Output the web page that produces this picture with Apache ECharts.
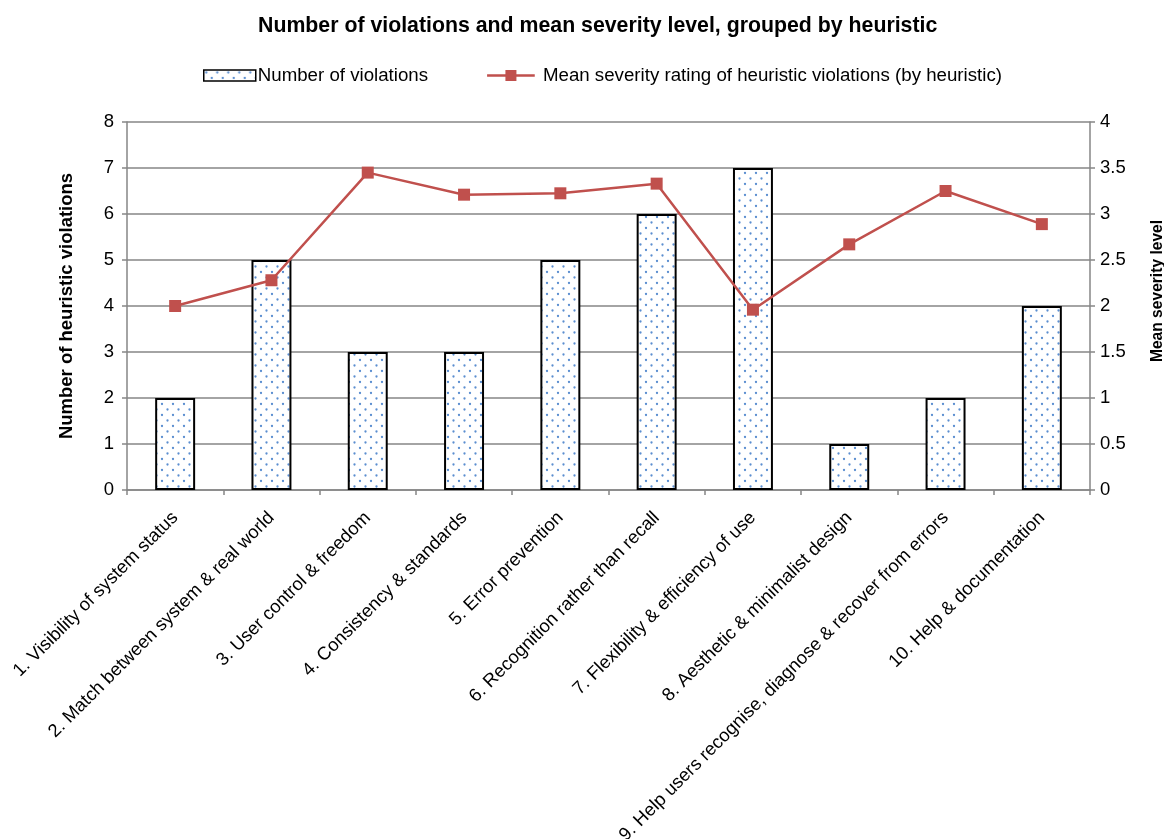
<!DOCTYPE html>
<html>
<head>
<meta charset="utf-8">
<script src="https://cdn.jsdelivr.net/npm/echarts@6/dist/echarts.min.js"></script>
<style>html,body{margin:0;padding:0;background:#fff}#c{width:1164px;height:839px}</style>
</head>
<body>
<div id="c"></div>
<script>
const categories = [
  "1. Visibility of system status",
  "2. Match between system & real world",
  "3. User control & freedom",
  "4. Consistency & standards",
  "5. Error prevention",
  "6. Recognition rather than recall",
  "7. Flexibility & efficiency of use",
  "8. Aesthetic & minimalist design",
  "9. Help users recognise, diagnose & recover from errors",
  "10. Help & documentation"
];
const violations = [2, 5, 3, 3, 5, 6, 7, 1, 2, 4];
const severity = [2.0, 2.28, 3.45, 3.21, 3.225, 3.33, 1.96, 2.67, 3.25, 2.89];
const leftTicks = [0, 8, 1];
const rightTicks = [0, 4, 0.5];

function dotPattern() {
  const c = document.createElement('canvas');
  c.width = 11; c.height = 11;
  const g = c.getContext('2d');
  g.fillStyle = '#ffffff';
  g.fillRect(0, 0, 11, 11);
  g.fillStyle = '#5b8ed0';
  g.beginPath(); g.arc(2.5, 2.5, 1.15, 0, Math.PI * 2); g.fill();
  g.beginPath(); g.arc(8, 8, 1.15, 0, Math.PI * 2); g.fill();
  return c;
}
const pattern = { image: dotPattern(), repeat: 'repeat' };
const FONT = 'Liberation Sans, Arial, sans-serif';
const grey = '#868686';
const red = '#c0504d';
const lineIcon = 'path://M0,4.6 L20,4.6 L20,0 L32,0 L32,4.6 L52,4.6 L52,7.4 L32,7.4 L32,12 L20,12 L20,7.4 L0,7.4 Z';

const chart = echarts.init(document.getElementById('c'), null, { renderer: 'canvas' });
chart.setOption({
  animation: false,
  backgroundColor: '#ffffff',
  textStyle: { fontFamily: FONT, color: '#000' },
  title: {
    text: 'Number of violations and mean severity level, grouped by heuristic',
    left: 253, top: 11,
    textStyle: { fontFamily: FONT, fontSize: 21.3, fontWeight: 'bold', color: '#000' }
  },
  legend: {
    top: 61, left: 198,
    itemGap: 59,
    itemWidth: 52, itemHeight: 11,
    textStyle: { fontFamily: FONT, fontSize: 18.7, color: '#000', padding: [0, 0, 0, -3] },
    data: [
      { name: 'Number of violations', icon: 'rect', itemStyle: { color: pattern, borderColor: '#000', borderWidth: 1.5 } },
      { name: 'Mean severity rating of heuristic violations (by heuristic)', icon: lineIcon, itemStyle: { color: red, borderWidth: 0 },
        textStyle: { padding: [0, 0, 0, 1] } }
    ]
  },
  grid: { left: 127, right: 74, top: 122, bottom: 349, containLabel: false, outerBoundsMode: 'none' },
  xAxis: {
    type: 'category',
    data: categories,
    boundaryGap: true,
    axisLine: { lineStyle: { color: grey, width: 1.5 } },
    axisTick: { show: true, length: 5, lineStyle: { color: grey, width: 1.5 } },
    axisLabel: { interval: 0, rotate: 45, fontSize: 18.4, color: '#000', fontFamily: FONT, margin: 25 }
  },
  yAxis: [
    {
      type: 'value', min: leftTicks[0], max: leftTicks[1], interval: leftTicks[2],
      name: 'Number of heuristic violations', nameLocation: 'middle', nameRotate: 90, nameGap: 51,
      nameTextStyle: { fontFamily: FONT, fontSize: 18.5, fontWeight: 'bold', color: '#000' },
      axisLine: { show: true, lineStyle: { color: grey, width: 1.5 } },
      axisTick: { show: true, length: 5, lineStyle: { color: grey, width: 1.5 } },
      axisLabel: { fontSize: 18.5, color: '#000', fontFamily: FONT, margin: 13 },
      splitLine: { show: true, lineStyle: { color: grey, width: 1.5 } }
    },
    {
      type: 'value', min: rightTicks[0], max: rightTicks[1], interval: rightTicks[2],
      name: 'Mean severity level', nameLocation: 'middle', nameRotate: 90, nameGap: 60,
      nameTextStyle: { fontFamily: FONT, fontSize: 15.6, fontWeight: 'bold', color: '#000', padding: [0, 0, 0, 30] },
      axisLine: { show: true, lineStyle: { color: grey, width: 1.5 } },
      axisTick: { show: true, length: 5, lineStyle: { color: grey, width: 1.5 } },
      axisLabel: { fontSize: 18.5, color: '#000', fontFamily: FONT, margin: 10 },
      splitLine: { show: false }
    }
  ],
  series: [
    {
      name: 'Number of violations', type: 'bar', yAxisIndex: 0,
      data: violations, barWidth: '41.5%',
      itemStyle: { color: pattern, borderColor: '#000', borderWidth: 2 }
    },
    {
      name: 'Mean severity rating of heuristic violations (by heuristic)', type: 'line', yAxisIndex: 1,
      data: severity, symbol: 'rect', symbolSize: 12,
      lineStyle: { color: red, width: 2.5 },
      itemStyle: { color: red }
    }
  ]
});
</script>
</body>
</html>
